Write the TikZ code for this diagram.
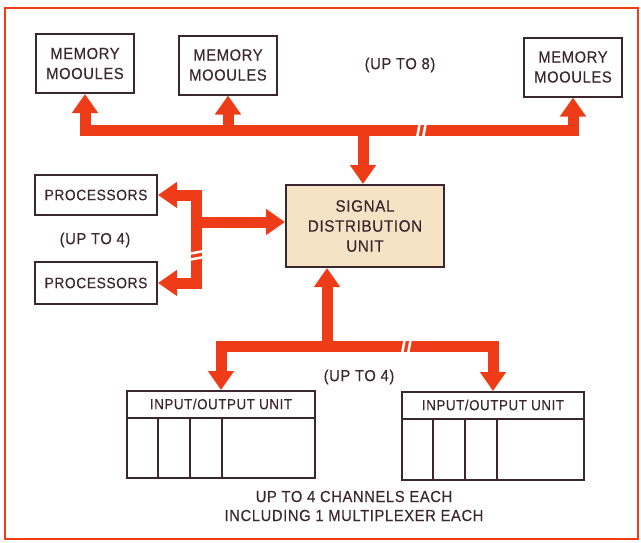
\documentclass[tikz,border=0pt]{standalone}
\usepackage{fontspec}
\setmainfont{Liberation Sans}[LetterSpace=4,FakeStretch=0.92,FakeBold=0.4]
\usepackage{tikz}
\usetikzlibrary{arrows.meta}
\definecolor{busred}{RGB}{238,60,24}
\definecolor{ink}{RGB}{58,40,46}
\definecolor{sdufill}{RGB}{246,226,196}
\tikzset{blk/.style={rectangle,draw=ink,line width=2pt,text=ink,align=center,
    font=\fontsize{16}{20}\selectfont,inner sep=0pt}}
\tikzset{lbl/.style={text=ink,align=center,font=\fontsize{16}{19}\selectfont}}
\tikzset{bus/.style={draw=busred,line width=11pt,line cap=rect}}
\tikzset{busarrow/.style={draw=busred,line width=11pt,-{Triangle[length=19pt,width=25pt]}}}
\tikzset{brk/.style={draw=white,line width=2.5pt}}

\begin{document}
\begin{tikzpicture}[x=1pt,y=-1pt]
  \useasboundingbox (0,0) rectangle (641,542);
  % frame
  \draw[busred,line width=2pt] (5,8) rectangle (638,539);

  % memory modules along the top
  \foreach \name/\x/\y in {mem1/85/63.5, mem2/228/65, mem3/573/67} {
    \node[blk,minimum width=98,minimum height=59] (\name) at (\x,\y) {MEMORY\\MOOULES};
  }
  \node[lbl] (upto8) at (400,65) {(UP TO 8)};

  \node[blk,fill=sdufill,minimum width=158,minimum height=82,font=\fontsize{16.5}{20}\selectfont]
    (sdu) at (365,226) {SIGNAL\\DISTRIBUTION\\UNIT};

  % processors
  \node[blk,minimum width=122,minimum height=40,font=\fontsize{15}{18}\selectfont] (proc1) at (96,195) {PROCESSORS};
  \node[blk,minimum width=122,minimum height=42,font=\fontsize{15}{18}\selectfont] (proc2) at (96,283) {PROCESSORS};
  \node[lbl] (upto4p) at (95,240) {(UP TO 4)};

  % i/o units
  \foreach \name/\x/\y/\w/\h in {io1/221/434.5/188/87, io2/493/436/182/88} {
    \node[blk,minimum width=\w,minimum height=\h] (\name) at (\x,\y) {};
    \draw[ink,line width=2pt] ([yshift=-28]\name.north west) -- ([yshift=-28]\name.north east);
    \foreach \dx in {32,64,96}
      \draw[ink,line width=2pt] ([xshift=\dx]\name.south west) -- ([xshift=\dx,yshift=-28]\name.north west);
    \node[lbl,font=\fontsize{14.5}{17}\selectfont] (\name txt) at ([yshift=-14]\name.north) {INPUT/OUTPUT UNIT};
  }
  \node[lbl] (upto4io) at (359,377) {(UP TO 4)};
  \node[lbl] (chan) at (354,506) {UP TO 4 CHANNELS EACH\\INCLUDING 1 MULTIPLEXER EACH};

  % buses
  \coordinate (mbus) at (0,130);
  \coordinate (pbus) at (196,0);
  \coordinate (iobus) at (0,346);

  \draw[bus] (mem1 |- mbus) -- (mem3 |- mbus);
  \foreach \m in {mem1,mem2,mem3}
    \draw[busarrow] (\m |- mbus) -- (\m.south);
  \draw[busarrow] ([xshift=-2]sdu.north |- mbus) -- ([xshift=-2]sdu.north);

  \draw[bus] (pbus |- proc1.east) -- (pbus |- proc2.east);
  \draw[busarrow] (pbus |- proc1.east) -- (proc1.east);
  \draw[busarrow] (pbus |- proc2.east) -- (proc2.east);
  \draw[busarrow] ([yshift=4]pbus |- sdu.west) -- ([yshift=4]sdu.west);

  \draw[bus] (io1.north |- iobus) -- (io2.north |- iobus);
  \draw[busarrow] (io1.north |- iobus) -- (io1.north);
  \draw[busarrow] (io2.north |- iobus) -- (io2.north);
  \draw[busarrow] ([xshift=-38]sdu.south |- iobus) -- ([xshift=-38]sdu.south);

  % breaks in the buses
  \coordinate (mbrk) at (422,130);
  \coordinate (pbrk) at (196,255);
  \coordinate (iobrk) at (407,346);
  \foreach \b in {mbrk,iobrk} {
    \draw[brk] ([shift={(-5,8)}]\b) -- ([shift={(-2,-8)}]\b);
    \draw[brk] ([shift={(1,8)}]\b) -- ([shift={(4,-8)}]\b);
  }
  \draw[brk] ([shift={(-8,-1)}]pbrk) -- ([shift={(8,-4)}]pbrk);
  \draw[brk] ([shift={(-8,5)}]pbrk) -- ([shift={(8,2)}]pbrk);
\end{tikzpicture}
\end{document}
